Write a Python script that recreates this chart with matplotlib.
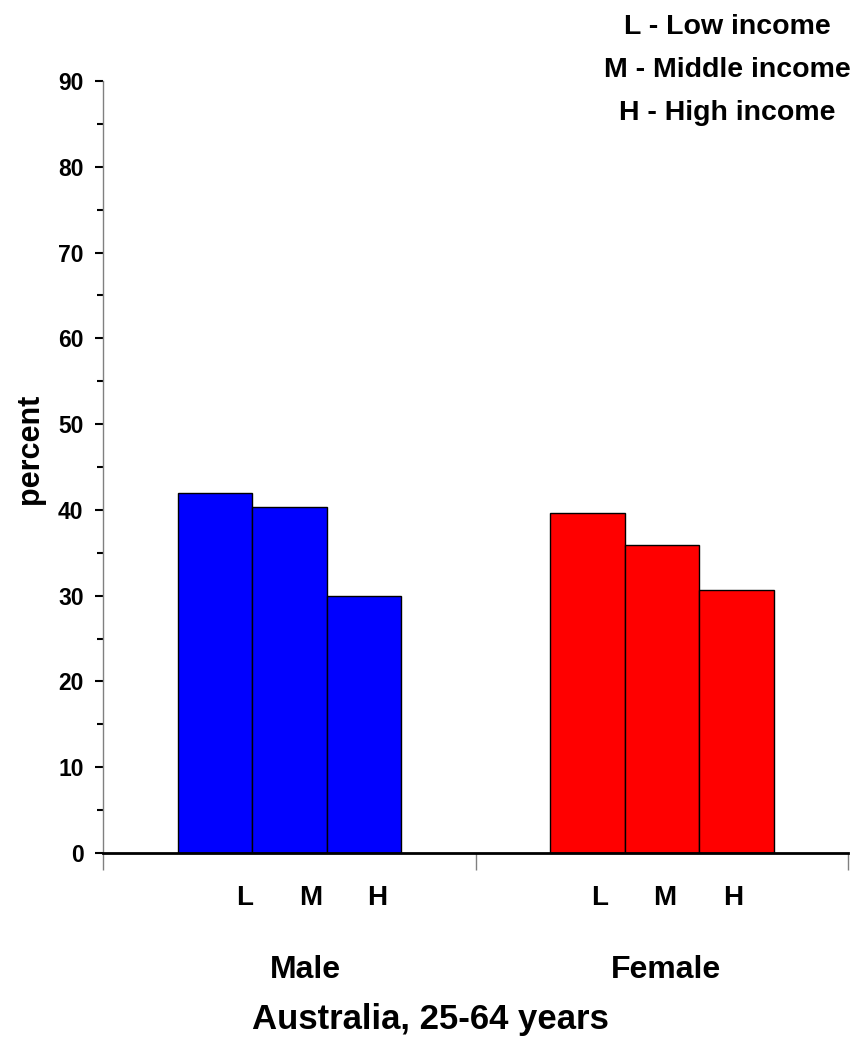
import matplotlib
matplotlib.use("Agg")
import matplotlib.pyplot as plt
from matplotlib.ticker import MultipleLocator

plt.rcParams['font.family'] = ['Liberation Sans', 'DejaVu Sans']
plt.rcParams['font.weight'] = 'bold'

# data
groups = ['Male', 'Female']
incomes = ['L', 'M', 'H']
male = [42.0, 40.3, 30.0]
female = [39.6, 35.9, 30.7]
legend_lines = ['L - Low income', 'M - Middle income', 'H - High income']
title = 'Australia, 25-64 years'

fig = plt.figure(figsize=(8.61, 10.52), dpi=100)
ax = fig.add_axes([103 / 861, 1 - 853 / 1052, 745 / 861, 772 / 1052])

# bar positions in bar-width units
male_x = [1.5, 2.5, 3.5]
female_x = [6.5, 7.5, 8.5]
ax.bar(male_x, male, width=1.0, color='#0000ff', edgecolor='black', linewidth=1)
ax.bar(female_x, female, width=1.0, color='#ff0000', edgecolor='black', linewidth=1)

ax.set_xlim(0, 10)
ax.set_ylim(0, 90)

ax.spines['top'].set_visible(False)
ax.spines['right'].set_visible(False)
ax.spines['left'].set_color('#808080')
ax.spines['left'].set_linewidth(1)
ax.spines['bottom'].set_color('black')
ax.spines['bottom'].set_linewidth(2)

ax.yaxis.set_major_locator(MultipleLocator(10))
ax.yaxis.set_minor_locator(MultipleLocator(5))
ax.tick_params(axis='y', which='major', length=6, width=1.5, color='black',
               labelsize=16.5, pad=8)
ax.tick_params(axis='y', which='minor', length=4, width=1.5, color='black')
for lab in ax.get_yticklabels():
    lab.set_fontweight('bold')

ax.set_xticks([0, 5, 10])
ax.set_xticklabels([])
ax.tick_params(axis='x', which='major', length=12, width=1, color='#808080')

ax.set_ylabel('percent', fontsize=22, fontweight='bold')
ax.yaxis.label.set_va('center')
ax.yaxis.set_label_coords(-0.098, 0.523)

# income labels under bars
male_lab_x = [1.9, 2.79, 3.68]
female_lab_x = [6.67, 7.54, 8.46]
for xs in (male_lab_x, female_lab_x):
    for x, t in zip(xs, incomes):
        ax.text(x, -5.3, t, ha='center', va='center', fontsize=20, fontweight='bold')

# group labels
for x, g in zip([2.72, 7.56], groups):
    ax.text(x, -13.6, g, ha='center', va='center', fontsize=23, fontweight='bold')

fig.text(430 / 861, 1 - 1020 / 1052, title, ha='center', va='center',
         fontsize=25, fontweight='bold')

for i, line in enumerate(legend_lines):
    fig.text(727 / 861, 1 - (27 + 43 * i) / 1052, line, ha='center', va='center',
             fontsize=20.5, fontweight='bold')

fig.savefig('out.png', dpi=100)
